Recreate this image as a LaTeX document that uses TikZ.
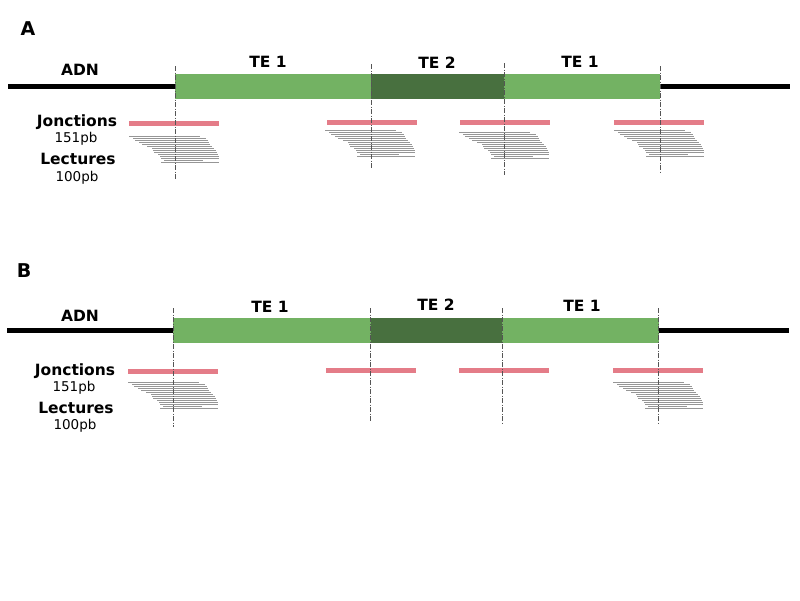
\documentclass[tikz,border=0pt]{standalone}
\usepackage{fontspec}
\setmainfont{DejaVu Sans}
\definecolor{teclair}{RGB}{115,178,99}
\definecolor{tefonce}{RGB}{72,112,63}
\definecolor{jonction}{RGB}{228,124,136}
\definecolor{lecture}{RGB}{150,150,150}
\definecolor{repere}{RGB}{85,85,85}
\newcommand{\pilelectures}[2]{%
  \foreach \s/\e [count=\i from 0] in {0/71,4/77,6/79,10/80,13/81,18/83,23/85,24/87,25/88,29/89,31/90,32/90,35/74,32/90}
    \draw[lecture, line width=0.9pt] (#1+\s,#2+2*\i) -- (#1+\e,#2+2*\i);}

\begin{document}
\begin{tikzpicture}[x=1pt,y=-1pt,
    titre/.style={font=\fontsize{19}{19}\selectfont\bfseries, inner sep=0pt},
    etiq/.style={font=\fontsize{15.5}{15.5}\selectfont\bfseries, inner sep=0pt},
    petit/.style={font=\fontsize{13.5}{13.5}\selectfont, inner sep=0pt},
    adn/.style={line width=5pt},
    jonc/.style={jonction, line width=5pt},
    axe/.style={repere, line width=0.8pt, dash pattern=on 5pt off 1.5pt on 1pt off 1.5pt}]
\useasboundingbox (0,0) rectangle (800,600);

\node[titre] (titreA) at (28,29) {A};
\draw[adn] (8,86.5) -- (790,86.5);
\fill[teclair] (175,74) rectangle (660,99);
\fill[tefonce] (371,74) rectangle (504,99);
\node[etiq] (adnA) at (80,70) {ADN};
\node[etiq] (te1A) at (268,62) {TE 1};
\node[etiq] (te2A) at (437,63) {TE 2};
\node[etiq] (te3A) at (580,62) {TE 1};
\node[etiq] (joncA) at (77,122) {Jonctions};
\node[petit] (tjA) at (76,139) {151pb};
\node[etiq] (lectA) at (78,159) {Lectures};
\node[petit] (tlA) at (77,178) {100pb};
\coordinate (jA1) at (175,66);
\coordinate (jA2) at (371,64);
\coordinate (jA3) at (504,63);
\coordinate (jA4) at (660,66);
\draw[jonc] (129,123) -- (219,123);
\draw[jonc] (327,122.5) -- (417,122.5);
\draw[jonc] (460,122.5) -- (550,122.5);
\draw[jonc] (614,122.5) -- (704,122.5);
\pilelectures{129}{136}
\pilelectures{325}{130.5}
\pilelectures{459}{132}
\pilelectures{614}{130.5}
\draw[axe] (jA1) -- ++(0,113);
\draw[axe] (jA2) -- ++(0,105);
\draw[axe] (jA3) -- ++(0,112);
\draw[axe] (jA4) -- ++(0,107);

\node[titre] (titreB) at (24,271) {B};
\draw[adn] (7,330.3) -- (789,330.3);
\fill[teclair] (173,318) rectangle (659,343);
\fill[tefonce] (371,318) rectangle (502,343);
\node[etiq] (adnB) at (80,316) {ADN};
\node[etiq] (te1B) at (270,307) {TE 1};
\node[etiq] (te2B) at (436,305) {TE 2};
\node[etiq] (te3B) at (582,306) {TE 1};
\node[etiq] (joncB) at (75,371) {Jonctions};
\node[petit] (tjB) at (74,388) {151pb};
\node[etiq] (lectB) at (76,408) {Lectures};
\node[petit] (tlB) at (75,426) {100pb};
\coordinate (jB1) at (173,308);
\coordinate (jB2) at (370.5,308);
\coordinate (jB3) at (502.3,308);
\coordinate (jB4) at (658.3,308);
\draw[jonc] (128,371.3) -- (218,371.3);
\draw[jonc] (326,370.3) -- (416,370.3);
\draw[jonc] (459,370.3) -- (549,370.3);
\draw[jonc] (613,370.3) -- (703,370.3);
\pilelectures{128}{382.3}
\pilelectures{613}{382.3}
\draw[axe] (jB1) -- ++(0,119);
\draw[axe] (jB2) -- ++(0,114);
\draw[axe] (jB3) -- ++(0,117);
\draw[axe] (jB4) -- ++(0,116);
\end{tikzpicture}
\end{document}
